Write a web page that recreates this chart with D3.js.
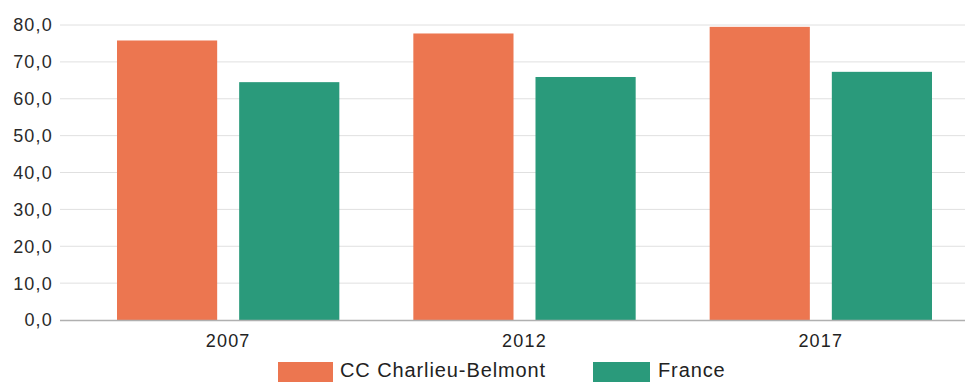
<!DOCTYPE html>
<html><head><meta charset="utf-8">
<script src="https://cdn.jsdelivr.net/npm/d3@7/dist/d3.min.js"></script>
<style>body{margin:0;background:#fff;}svg{display:block;font-family:"Liberation Sans",Arial,sans-serif;}</style>
</head><body><svg id="c" width="973" height="382"></svg>
<script>
const years = ["2007","2012","2017"];
const seriesNames = ["CC Charlieu-Belmont","France"];
const charlieu = [75.8, 77.7, 79.5];
const france = [64.5, 65.9, 67.3];
const yTicks = [0,10,20,30,40,50,60,70,80];
const colors = ["#ec7650","#2a9a7b"];

const svg = d3.select("#c");
const x = d3.scaleBand().domain(years).range([80, 969]).paddingInner(0).paddingOuter(0);
const x1 = d3.scaleBand().domain(seriesNames).range([37, x.bandwidth()-37]).paddingInner(0.18);
const y = d3.scaleLinear().domain([0,80]).range([320, 25]);

// grid
svg.append("g").selectAll("line").data(yTicks.filter(d=>d>0)).join("line")
  .attr("x1",60).attr("x2",965).attr("y1",d=>y(d)).attr("y2",d=>y(d))
  .attr("stroke","#e0e0e0").attr("stroke-width",1);

// y labels
svg.append("g").selectAll("text").data(yTicks).join("text")
  .attr("x",53).attr("y",d=>y(d)).attr("dy","0.36em").attr("text-anchor","end")
  .attr("font-size",18).attr("letter-spacing",1.2).attr("fill","#2a2a2a")
  .text(d=>d3.format(".1f")(d).replace(".",","));

const data = years.map((yr,i)=>({yr, vals:[charlieu[i], france[i]]}));
const g = svg.append("g").selectAll("g").data(data).join("g")
  .attr("transform",d=>`translate(${x(d.yr)},0)`);
g.selectAll("rect").data(d=>d.vals.map((v,j)=>({v,s:seriesNames[j],j}))).join("rect")
  .attr("x",d=>x1(d.s)).attr("width",x1.bandwidth())
  .attr("y",d=>y(d.v)).attr("height",d=>y(0)-y(d.v))
  .attr("fill",d=>colors[d.j]);

// x axis
svg.append("line").attr("x1",60).attr("x2",965).attr("y1",y(0)+0.5).attr("y2",y(0)+0.5)
  .attr("stroke","#b0b0b0").attr("stroke-width",1.5);
svg.append("g").selectAll("text").data(years).join("text")
  .attr("x",d=>x(d)+x.bandwidth()/2).attr("y",347).attr("text-anchor","middle")
  .attr("font-size",18).attr("letter-spacing",1.2).attr("fill","#222").text(d=>d);

// legend
const legX = [278, 593];
const lg = svg.append("g").selectAll("g").data(seriesNames).join("g")
  .attr("transform",(d,i)=>`translate(${legX[i]},362)`);
lg.append("rect").attr("width",(d,i)=>i===0?55:57).attr("height",20).attr("fill",(d,i)=>colors[i]);
lg.append("text").attr("x",(d,i)=>i===0?62:65).attr("y",15).attr("font-size",20).attr("letter-spacing",0.9).attr("fill","#222").text(d=>d);
</script></body></html>
